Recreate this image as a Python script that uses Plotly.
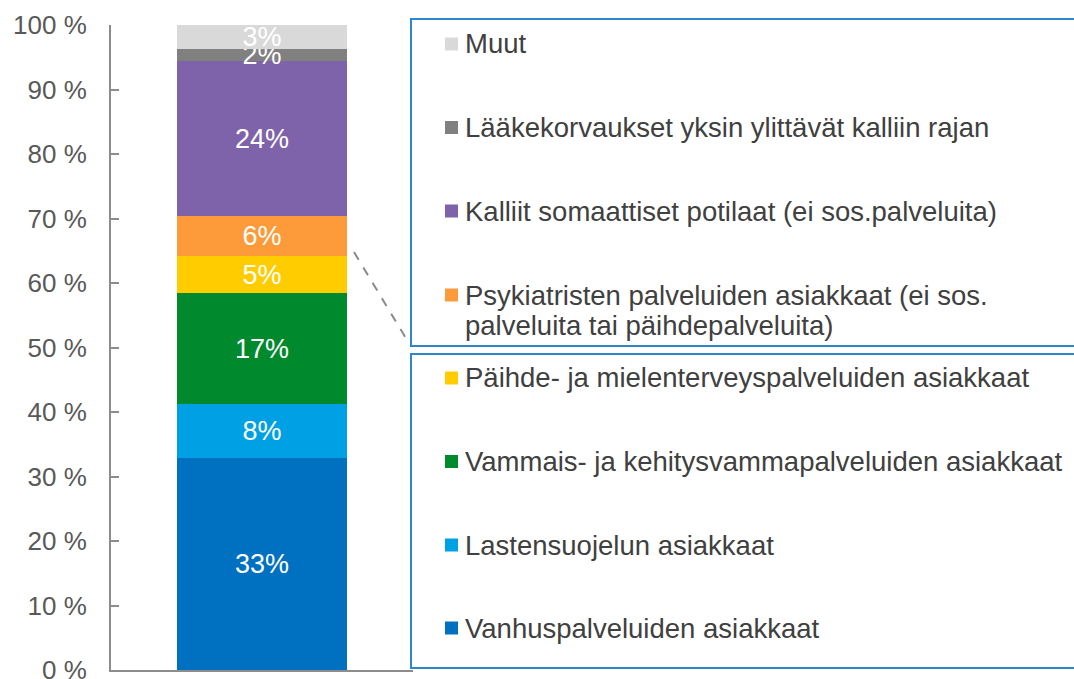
import plotly.graph_objects as go

# ---- data ----
categories = [
    "Vanhuspalveluiden asiakkaat",
    "Lastensuojelun asiakkaat",
    "Vammais- ja kehitysvammapalveluiden asiakkaat",
    "Päihde- ja mielenterveyspalveluiden asiakkaat",
    "Psykiatristen palveluiden asiakkaat (ei sos.<br>palveluita tai päihdepalveluita)",
    "Kalliit somaattiset potilaat (ei sos.palveluita)",
    "Lääkekorvaukset yksin ylittävät kalliin rajan",
    "Muut",
]
values = [32.9, 8.3, 17.3, 5.7, 6.2, 24.0, 1.9, 3.7]
value_labels = ["33%", "8%", "17%", "5%", "6%", "24%", "2%", "3%"]
colors = ["#0070C0", "#00A1E4", "#00892D", "#FFCC00", "#FD9A3A",
          "#7F63AA", "#808080", "#D9D9D9"]
y_ticks = [0, 10, 20, 30, 40, 50, 60, 70, 80, 90, 100]
y_tick_labels = [f"{t} %" for t in y_ticks]

FONT = "Liberation Sans, Arial, sans-serif"
W, H = 1074, 679
L, R, T, B = 111, 661, 25, 9
PW, PH = W - L - R, H - T - B


def px(x):
    return (x - L) / PW


def py(y):
    return (H - B - y) / PH


fig = go.Figure()
for cat, v, lab, c in zip(categories, values, value_labels, colors):
    fig.add_trace(go.Bar(
        x=[0], y=[v], name=cat, marker=dict(color=c, line=dict(width=0)),
        text=[lab], textposition="inside", insidetextanchor="middle",
        constraintext="none", cliponaxis=False,
        textfont=dict(color="white", size=27, family=FONT),
        width=0.566, showlegend=False, hoverinfo="skip",
    ))

shapes = []
annotations = []

# legend boxes
box_color = "#2E86CC"
shapes.append(dict(type="rect", xref="paper", yref="paper",
                   x0=px(411), x1=px(1090), y0=py(346), y1=py(19),
                   line=dict(color=box_color, width=2), fillcolor="rgba(0,0,0,0)"))
shapes.append(dict(type="rect", xref="paper", yref="paper",
                   x0=px(411), x1=px(1090), y0=py(668), y1=py(354),
                   line=dict(color=box_color, width=2), fillcolor="rgba(0,0,0,0)"))
# dashed connector
shapes.append(dict(type="line", xref="paper", yref="paper",
                   x0=px(354), y0=py(252), x1=px(407), y1=py(340),
                   line=dict(color="#8a8a8a", width=2, dash="dash")))

# legend entries (top to bottom = reversed stack order)
row_centers = [44, 127.5, 211, 295, 378, 461.5, 545, 628]
line_gap = 30
for (cat, c), yc in zip(reversed(list(zip(categories, colors))), row_centers):
    shapes.append(dict(type="rect", xref="paper", yref="paper",
                       x0=px(445), x1=px(458), y0=py(yc + 6.5), y1=py(yc - 6.5),
                       line=dict(width=0), fillcolor=c))
    for k, line in enumerate(cat.split("<br>")):
        annotations.append(dict(xref="paper", yref="paper", x=px(463),
                                y=py(yc + k * line_gap),
                                xanchor="left", yanchor="middle", align="left",
                                text=line, showarrow=False,
                                font=dict(size=27.5, color="#404040", family=FONT)))

fig.update_layout(
    width=W, height=H,
    margin=dict(l=L, r=R, t=T, b=B, pad=0, autoexpand=False),
    paper_bgcolor="white", plot_bgcolor="white",
    barmode="stack", bargap=0,
    shapes=shapes, annotations=annotations,
    font=dict(family=FONT),
    xaxis=dict(range=[-0.5, 0.5], showticklabels=False, ticks="",
               showgrid=False, zeroline=False, showline=True, automargin=False,
               linecolor="#8c8c8c", linewidth=2, fixedrange=True),
    yaxis=dict(range=[0, 100.001], tickvals=y_ticks, ticktext=y_tick_labels,
               ticks="inside", ticklen=8, tickwidth=2, tickcolor="#8c8c8c",
               showline=True, linecolor="#8c8c8c", linewidth=2, automargin=False,
               showgrid=False, zeroline=False, ticklabelstandoff=17,
               ticklabeloverflow="allow",
               tickfont=dict(size=26, color="#595959", family=FONT),
               fixedrange=True),
)

fig.write_html("out.html")
